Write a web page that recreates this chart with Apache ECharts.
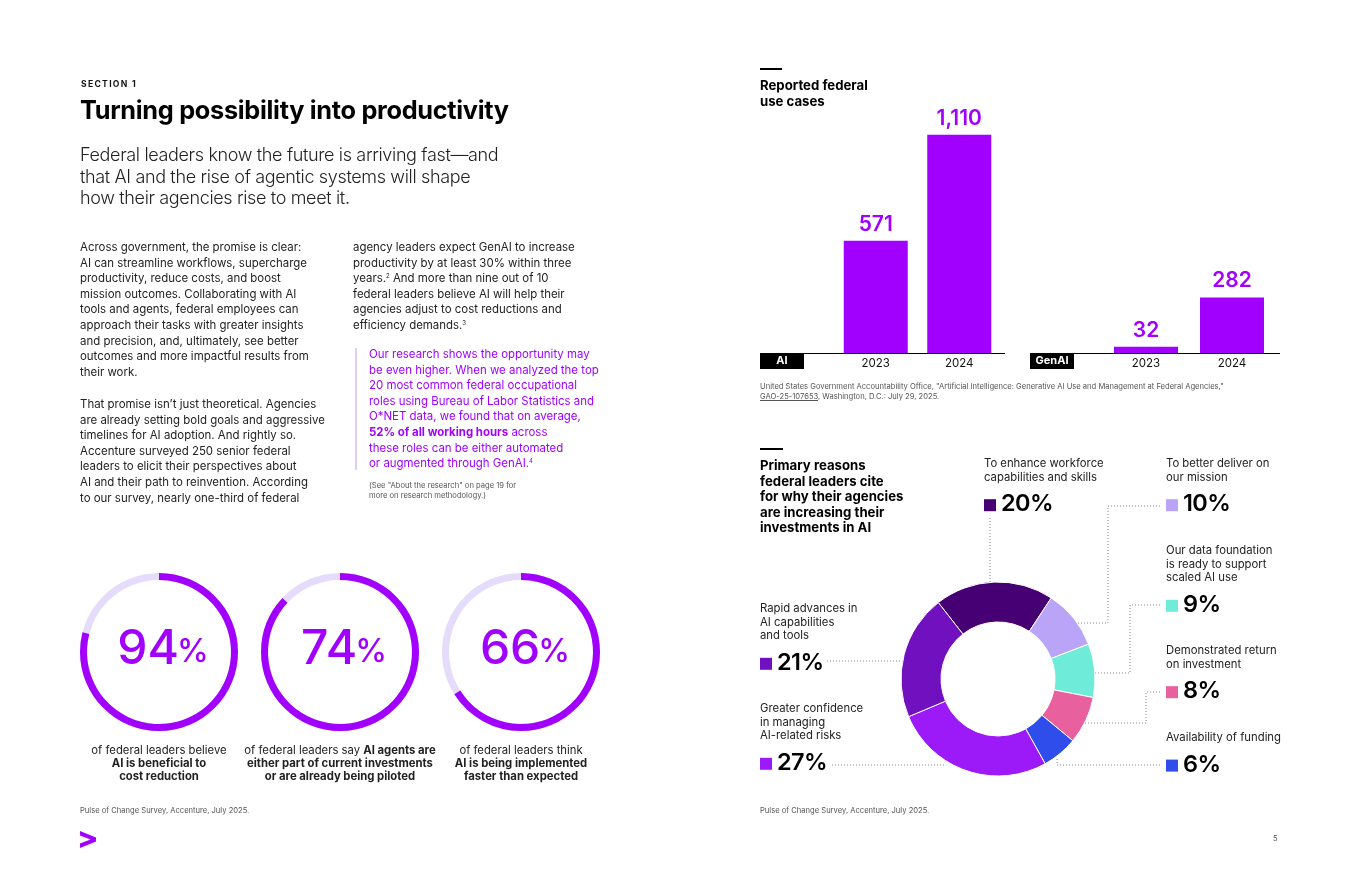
<!DOCTYPE html>
<html>
<head>
<meta charset="utf-8">
<title>Turning possibility into productivity</title>
<script src="https://cdn.jsdelivr.net/npm/echarts@6/dist/echarts.min.js"></script>
<style>
  html, body { margin: 0; padding: 0; background: #fff; }
  body { width: 1360px; height: 880px; position: relative; overflow: hidden;
         font-family: Inter, "Noto Sans", sans-serif; color: #111; }
  #chart { position: absolute; left: 0; top: 0; width: 1360px; height: 880px; }
  .t { position: absolute; white-space: nowrap; pointer-events: none; }
  .body { font-size: 11.45px; line-height: 15.6px; color: #222; }
  .quote { font-size: 11.45px; line-height: 15.6px; color: #A100FF; }
  .small { font-size: 7.6px; line-height: 10px; color: #555; }
  .ringtxt { font-size: 11.3px; line-height: 13.2px; color: #222; text-align: center; width: 220px; }
  .lbl { font-size: 11.3px; line-height: 13.6px; color: #222; }
  .head { font-size: 13.2px; line-height: 15.6px; font-weight: 700; color: #000; }
  sup { font-size: 6px; vertical-align: 4px; line-height: 0; }
  b { font-weight: 700; }
</style>
</head>
<body>
<div id="chart"></div>

<!-- left page -->
<div class="t" style="left:81px;top:78px;font-size:8.6px;line-height:12px;font-weight:700;letter-spacing:1.3px;">SECTION 1</div>
<div class="t" style="left:80px;top:95px;font-size:25.3px;line-height:30px;font-weight:700;letter-spacing:-0.3px;color:#000;">Turning possibility into productivity</div>
<div class="t" style="left:80px;top:144px;font-size:18px;line-height:21.6px;font-weight:300;letter-spacing:-0.35px;color:#222;">
  Federal leaders know the future is arriving fast—and<br>
  that AI and the rise of agentic systems will shape<br>
  how their agencies rise to meet it.
</div>

<div class="t body" style="left:80px;top:240px;">
  Across government, the promise is clear:<br>
  AI can streamline workflows, supercharge<br>
  productivity, reduce costs, and boost<br>
  mission outcomes. Collaborating with AI<br>
  tools and agents, federal employees can<br>
  approach their tasks with greater insights<br>
  and precision, and, ultimately, see better<br>
  outcomes and more impactful results from<br>
  their work.
</div>
<div class="t body" style="left:80px;top:397px;">
  That promise isn’t just theoretical. Agencies<br>
  are already setting bold goals and aggressive<br>
  timelines for AI adoption. And rightly so.<br>
  Accenture surveyed 250 senior federal<br>
  leaders to elicit their perspectives about<br>
  AI and their path to reinvention. According<br>
  to our survey, nearly one-third of federal
</div>
<div class="t body" style="left:353px;top:240px;">
  agency leaders expect GenAI to increase<br>
  productivity by at least 30% within three<br>
  years.<sup>2</sup> And more than nine out of 10<br>
  federal leaders believe AI will help their<br>
  agencies adjust to cost reductions and<br>
  efficiency demands.<sup>3</sup>
</div>
<div class="t quote" style="left:369px;top:347px;">
  Our research shows the opportunity may<br>
  be even higher. When we analyzed the top<br>
  20 most common federal occupational<br>
  roles using Bureau of Labor Statistics and<br>
  O*NET data, we found that on average,<br>
  <b>52% of all working hours</b> across<br>
  these roles can be either automated<br>
  or augmented through GenAI.<sup>4</sup>
</div>
<div class="t small" style="left:369px;top:481px;">
  (See "About the research" on page 19 for<br>
  more on research methodology.)
</div>

<div class="t ringtxt" style="left:49px;top:744px;">of federal leaders believe<br><b>AI is beneficial to<br>cost reduction</b></div>
<div class="t ringtxt" style="left:230px;top:744px;">of federal leaders say <b>AI agents are<br>either part of current investments<br>or are already being piloted</b></div>
<div class="t ringtxt" style="left:411px;top:744px;">of federal leaders think<br><b>AI is being implemented<br>faster than expected</b></div>

<div class="t small" style="left:80px;top:806px;">Pulse of Change Survey, Accenture, July 2025.</div>

<!-- right page -->
<div class="t head" style="left:760px;top:78px;">Reported federal<br>use cases</div>
<div class="t small" style="left:760px;top:382px;">
  United States Government Accountability Office, "Artificial Intelligence: Generative AI Use and Management at Federal Agencies,"<br>
  <span style="text-decoration:underline;">GAO-25-107653</span>, Washington, D.C.: July 29, 2025.
</div>
<div class="t head" style="left:760px;top:458px;">
  Primary reasons<br>federal leaders cite<br>for why their agencies<br>are increasing their<br>investments in AI
</div>
<div id="reasonText"></div>
<div class="t small" style="left:760px;top:806px;">Pulse of Change Survey, Accenture, July 2025.</div>
<div class="t small" style="left:1273px;top:834px;">5</div>

<script>
// reported federal use cases (GAO)
const years = ['2023', '2024'];
const aiUseCases = [571, 1110];
const genAiUseCases = [32, 282];

// reasons for increasing AI investment, clockwise from the top of the donut
const reasonLabels = [
  'To enhance workforce\ncapabilities and skills',
  'To better deliver on\nour mission',
  'Our data foundation\nis ready to support\nscaled AI use',
  'Demonstrated return\non investment',
  'Availability of funding',
  'Greater confidence\nin managing\nAI-related risks',
  'Rapid advances in\nAI capabilities\nand tools'
];
const reasonValues = [20, 10, 9, 8, 6, 27, 21];

// headline survey numbers and how much of each ring is stroked in the picture
const ringPct = [94, 74, 66];
const ringArc = [79, 87, 66];

const purple = '#A100FF';
const reasonColors = ['#460073', '#B9A4F7', '#6EEBD9', '#E9609F', '#2F4DEB', '#9B1AF7', '#7110BE'];

// where each reason label sits and the dotted leader running to its slice
const reasonSpots = [
  { x: 984,  y: 457, line: [[990, 518], [990, 583]] },
  { x: 1166, y: 457, line: [[1160, 506], [1108, 506], [1108, 623], [1076, 623]] },
  { x: 1166, y: 544, line: [[1160, 605], [1130, 605], [1130, 673], [1094, 673]] },
  { x: 1166, y: 644, line: [[1160, 692], [1146, 692], [1146, 723], [1085, 723]] },
  { x: 1166, y: 731, line: [[1160, 765], [1057, 765], [1057, 757]] },
  { x: 760,  y: 702, line: [[832, 765], [945, 765]] },
  { x: 760,  y: 602, line: [[827, 661], [900, 661]] }
];

// label blocks as html text
let holder = document.getElementById('reasonText');
reasonLabels.forEach(function (txt, i) {
  let s = reasonSpots[i];
  let lines = txt.split('\n');
  let d = document.createElement('div');
  d.className = 't lbl';
  d.style.left = s.x + 'px';
  d.style.top = s.y + 'px';
  d.innerHTML = lines.join('<br>');
  holder.appendChild(d);
  let v = document.createElement('div');
  v.className = 't';
  v.style.left = (s.x + 17) + 'px';
  v.style.top = (s.y + lines.length * 13.6 + 6) + 'px';
  v.style.fontSize = '23.5px';
  v.style.lineHeight = '26px';
  v.style.fontWeight = '600';
  v.style.color = '#000';
  v.style.letterSpacing = '-0.6px';
  v.textContent = reasonValues[i] + '%';
  holder.appendChild(v);
  s.sq = s.y + lines.length * 13.6 + 15;
});

let chart = echarts.init(document.getElementById('chart'), null, { renderer: 'canvas' });

let graphics = [
  { type: 'rect', shape: { x: 760, y: 68, width: 22, height: 2 }, style: { fill: '#000' } },
  { type: 'rect', shape: { x: 760, y: 448, width: 23, height: 2 }, style: { fill: '#000' } },
  { type: 'line', shape: { x1: 760, y1: 353.5, x2: 1005, y2: 353.5 }, style: { stroke: '#000', lineWidth: 1 } },
  { type: 'line', shape: { x1: 1030, y1: 353.5, x2: 1280, y2: 353.5 }, style: { stroke: '#000', lineWidth: 1 } },
  { type: 'rect', shape: { x: 760, y: 353, width: 44, height: 16 }, style: { fill: '#000' } },
  { type: 'text', x: 782, y: 361, style: { text: 'AI', fill: '#fff', font: '700 11px Inter', align: 'center', verticalAlign: 'middle' } },
  { type: 'rect', shape: { x: 1030, y: 353, width: 44, height: 16 }, style: { fill: '#000' } },
  { type: 'text', x: 1052, y: 361, style: { text: 'GenAI', fill: '#fff', font: '700 11px Inter', align: 'center', verticalAlign: 'middle' } },
  { type: 'rect', shape: { x: 355, y: 348, width: 2, height: 122 }, style: { fill: '#DDD0F8' } },
  // accenture mark
  { type: 'polygon', shape: { points: [[80, 831], [96, 837.6], [96, 841.6], [80, 848], [80, 843.6], [90.5, 839.6], [80, 835.4]] }, style: { fill: purple } }
];
reasonSpots.forEach(function (s, i) {
  graphics.push({ type: 'polyline', shape: { points: s.line },
    style: { stroke: '#888', lineWidth: 1, lineDash: [1, 2], fill: null } });
  graphics.push({ type: 'rect', shape: { x: s.x, y: s.sq, width: 12, height: 12 },
    style: { fill: reasonColors[i] } });
});

const ringCenters = [159, 340, 521];
let ringSeries = ringPct.map(function (pct, i) {
  return {
    type: 'gauge',
    center: [ringCenters[i], 652],
    radius: 79,
    startAngle: 90,
    endAngle: -270,
    min: 0,
    max: 100,
    pointer: { show: false },
    progress: { show: true, width: 7, roundCap: false, itemStyle: { color: purple } },
    axisLine: { lineStyle: { width: 7, color: [[1, '#E5DBFB']] } },
    axisTick: { show: false },
    splitLine: { show: false },
    axisLabel: { show: false },
    title: { show: false },
    detail: {
      offsetCenter: [4, -2],
      formatter: function () { return '{v|' + pct + '}{p|%}'; },
      rich: {
        v: { fontSize: 48, fontWeight: 500, color: purple, fontFamily: 'Inter', lineHeight: 50 },
        p: { fontSize: 32, fontWeight: 500, color: purple, fontFamily: 'Inter', lineHeight: 50, padding: [5, 0, 0, -2] }
      }
    },
    data: [{ value: ringArc[i] }]
  };
});

function barSeries(values, idx) {
  return {
    type: 'bar',
    xAxisIndex: idx,
    yAxisIndex: idx,
    data: values,
    barWidth: 64,
    itemStyle: { color: purple },
    label: {
      show: true,
      position: 'top',
      distance: 6,
      color: purple,
      fontSize: 21,
      fontWeight: 600,
      fontFamily: 'Inter',
      formatter: function (p) { return p.value.toLocaleString('en-US'); }
    }
  };
}

let option = {
  animation: false,
  textStyle: { fontFamily: 'Inter' },
  grid: [
    { left: 834, top: 117, width: 167, height: 236 },
    { left: 1103, top: 117, width: 172, height: 236 }
  ],
  xAxis: [0, 1].map(function (i) {
    return {
      type: 'category', gridIndex: i, data: years,
      axisLine: { show: false }, axisTick: { show: false },
      axisLabel: { color: '#111', fontSize: 11.5, margin: 5 }
    };
  }),
  yAxis: [0, 1].map(function (i) {
    return { type: 'value', gridIndex: i, min: 0, max: 1200, show: false };
  }),
  series: [
    barSeries(aiUseCases, 0),
    barSeries(genAiUseCases, 1),
    {
      type: 'pie',
      center: [998, 679],
      radius: [57, 97],
      startAngle: 128,
      clockwise: true,
      label: { show: false },
      labelLine: { show: false },
      emphasis: { disabled: true },
      itemStyle: { borderColor: '#fff', borderWidth: 1 },
      data: reasonValues.map(function (v, i) {
        return { value: v, name: reasonLabels[i].replace(/\n/g, ' '), itemStyle: { color: reasonColors[i] } };
      })
    }
  ].concat(ringSeries),
  graphic: graphics
};

chart.setOption(option);
</script>
</body>
</html>
